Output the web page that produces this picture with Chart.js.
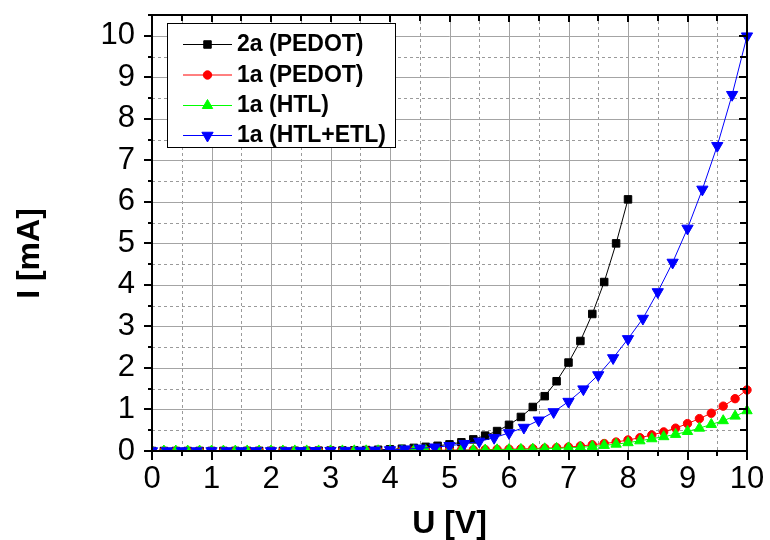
<!DOCTYPE html>
<html>
<head>
<meta charset="utf-8">
<style>
  html, body { margin: 0; padding: 0; background: #fff; }
  #wrap { width: 770px; height: 540px; }
</style>
<script src="https://cdn.jsdelivr.net/npm/chart.js@4/dist/chart.umd.min.js"></script>
</head>
<body>
<div id="wrap"><canvas id="c" width="770" height="540"></canvas></div>
<script>
// ---- data ----
const seriesNames = ['2a (PEDOT)', '1a (PEDOT)', '1a (HTL)', '1a (HTL+ETL)'];

const xBlack = [0.0,0.2,0.4,0.6,0.8,1.0,1.2,1.4,1.6,1.8,2.0,2.2,2.4,2.6,2.8,3.0,3.2,3.4,3.6,3.8,4.0,4.2,4.4,4.6,4.8,5.0,5.2,5.4,5.6,5.8,6.0,6.2,6.4,6.6,6.8,7.0,7.2,7.4,7.6,7.8,8.0];
const yBlack = [0.0,0.0,0.0,0.0,0.001,0.001,0.001,0.002,0.002,0.003,0.003,0.004,0.005,0.006,0.008,0.010,0.013,0.017,0.022,0.030,0.040,0.055,0.075,0.10,0.125,0.16,0.21,0.28,0.37,0.48,0.63,0.82,1.06,1.32,1.68,2.13,2.65,3.30,4.07,5.00,6.06];

const xRG = [0.0,0.2,0.4,0.6,0.8,1.0,1.2,1.4,1.6,1.8,2.0,2.2,2.4,2.6,2.8,3.0,3.2,3.4,3.6,3.8,4.0,4.2,4.4,4.6,4.8,5.0,5.2,5.4,5.6,5.8,6.0,6.2,6.4,6.6,6.8,7.0,7.2,7.4,7.6,7.8,8.0,8.2,8.4,8.6,8.8,9.0,9.2,9.4,9.6,9.8,10.0];
const yRed = [0,0,0,0,0,0,0,0.001,0.001,0.001,0.001,0.002,0.002,0.002,0.003,0.003,0.004,0.005,0.006,0.007,0.008,0.010,0.012,0.014,0.017,0.020,0.024,0.028,0.033,0.038,0.044,0.050,0.058,0.068,0.080,0.095,0.12,0.15,0.18,0.215,0.265,0.32,0.385,0.46,0.55,0.66,0.78,0.91,1.08,1.26,1.47];
const yGreen = [0,0,0,0,0,0,0,0,0.001,0.001,0.001,0.001,0.002,0.002,0.002,0.003,0.003,0.004,0.004,0.005,0.006,0.007,0.008,0.010,0.012,0.014,0.017,0.020,0.024,0.028,0.033,0.038,0.045,0.053,0.063,0.075,0.09,0.11,0.135,0.165,0.20,0.245,0.295,0.345,0.40,0.47,0.55,0.64,0.73,0.84,0.97];

const xBlue = [0.0,0.25,0.5,0.75,1.0,1.25,1.5,1.75,2.0,2.25,2.5,2.75,3.0,3.25,3.5,3.75,4.0,4.25,4.5,4.75,5.0,5.25,5.5,5.75,6.0,6.25,6.5,6.75,7.0,7.25,7.5,7.75,8.0,8.25,8.5,8.75,9.0,9.25,9.5,9.75,10.0];
const yBlue = [0.0,0.0,0.0,0.0,0.001,0.001,0.001,0.002,0.002,0.003,0.004,0.005,0.007,0.009,0.012,0.016,0.025,0.045,0.065,0.09,0.125,0.175,0.23,0.32,0.435,0.565,0.74,0.94,1.19,1.49,1.83,2.24,2.70,3.19,3.83,4.54,5.36,6.30,7.35,8.58,9.99];

const xTickLabels = ['0','1','2','3','4','5','6','7','8','9','10'];
const yTickLabels = ['0','1','2','3','4','5','6','7','8','9','10'];
const xTitle = 'U [V]';
const yTitle = 'I [mA]';

// ---- helpers ----
function pts(xs, ys) { return xs.map((x, i) => ({ x: x, y: ys[i] })); }

const styles = [
  { color: '#000000', shape: 'rect', radius: 5.3, rot: 0 },
  { color: '#ff0000', shape: 'circle', radius: 4.2, rot: 0 },
  { color: '#00ff00', shape: 'triangle', radius: 6, rot: 0 },
  { color: '#0000ff', shape: 'triangle', radius: 6.5, rot: 180 }
];
const dataArr = [pts(xBlack, yBlack), pts(xRG, yRed), pts(xRG, yGreen), pts(xBlue, yBlue)];

const datasets = dataArr.map((d, i) => ({
  label: seriesNames[i],
  data: d,
  borderColor: styles[i].color,
  backgroundColor: styles[i].color,
  borderWidth: 1,
  pointStyle: styles[i].shape,
  pointRadius: styles[i].radius,
  pointRotation: styles[i].rot,
  pointBorderWidth: 1,
  pointBackgroundColor: styles[i].color,
  pointBorderColor: styles[i].color,
  tension: 0,
  order: 4 - i,
  clip: { left: 0, top: 10, right: 10, bottom: 0 }
}));

function drawMarker(ctx, shape, x, y, r, rot, color) {
  ctx.save();
  ctx.fillStyle = color;
  ctx.strokeStyle = color;
  ctx.lineWidth = 1;
  ctx.translate(x, y);
  ctx.rotate(rot * Math.PI / 180);
  ctx.beginPath();
  if (shape === 'rect') {
    const s = r * Math.SQRT1_2;
    ctx.rect(-s, -s, 2 * s, 2 * s);
  } else if (shape === 'circle') {
    ctx.arc(0, 0, r, 0, Math.PI * 2);
  } else {
    const a = Math.PI / 2;
    for (let k = 0; k < 3; k++) {
      const ang = -a + k * 2 * Math.PI / 3;
      const px = Math.cos(ang) * r, py = Math.sin(ang) * r;
      if (k === 0) ctx.moveTo(px, py); else ctx.lineTo(px, py);
    }
    ctx.closePath();
  }
  ctx.fill();
  ctx.stroke();
  ctx.restore();
}

const gridPlugin = {
  id: 'customGrid',
  beforeDatasetsDraw(chart) {
    const { ctx, chartArea: a, scales } = chart;
    const xs = scales.x, ys = scales.y;
    ctx.save();
    ctx.lineWidth = 1;
    // minor dashed
    ctx.strokeStyle = '#9a9a9a';
    ctx.setLineDash([3, 3]);
    ctx.beginPath();
    xs.ticks.forEach(t => {
      if (Number.isInteger(t.value)) return;
      const px = Math.round(xs.getPixelForValue(t.value)) + 0.5;
      ctx.moveTo(px, a.top); ctx.lineTo(px, a.bottom);
    });
    ys.ticks.forEach(t => {
      if (Number.isInteger(t.value)) return;
      const py = Math.round(ys.getPixelForValue(t.value)) + 0.5;
      if (py <= a.top + 1) return;
      ctx.moveTo(a.left, py); ctx.lineTo(a.right, py);
    });
    ctx.stroke();
    // major solid
    ctx.setLineDash([]);
    ctx.strokeStyle = '#a4a4a4';
    ctx.beginPath();
    xs.ticks.forEach(t => {
      if (!Number.isInteger(t.value)) return;
      const px = Math.round(xs.getPixelForValue(t.value)) + 0.5;
      ctx.moveTo(px, a.top); ctx.lineTo(px, a.bottom);
    });
    ys.ticks.forEach(t => {
      if (!Number.isInteger(t.value)) return;
      const py = Math.round(ys.getPixelForValue(t.value)) + 0.5;
      ctx.moveTo(a.left, py); ctx.lineTo(a.right, py);
    });
    ctx.stroke();
    ctx.restore();
  }
};

const framePlugin = {
  id: 'frame',
  afterDatasetsDraw(chart) {
    const { ctx, chartArea: a, scales } = chart;
    const xs = scales.x, ys = scales.y;
    ctx.save();
    ctx.strokeStyle = '#000';
    ctx.lineWidth = 2;
    ctx.beginPath();
    ctx.rect(a.left, a.top, a.right - a.left, a.bottom - a.top);
    ctx.stroke();
    // tick marks
    ctx.lineWidth = 2;
    ctx.beginPath();
    xs.ticks.forEach(t => {
      const px = Math.round(xs.getPixelForValue(t.value));
      const major = Number.isInteger(t.value);
      const out = major ? 9 : 5;
      const inn = major ? 7 : 6;
      ctx.moveTo(px, a.bottom); ctx.lineTo(px, a.bottom + out);
      ctx.moveTo(px, a.top); ctx.lineTo(px, a.top + inn);
    });
    ys.ticks.forEach(t => {
      const py = Math.round(ys.getPixelForValue(t.value));
      const major = Number.isInteger(t.value);
      const out = major ? 8 : 4;
      const inn = major ? 8 : 7;
      ctx.moveTo(a.left, py); ctx.lineTo(a.left - out, py);
      ctx.moveTo(a.right, py); ctx.lineTo(a.right - inn, py);
    });
    ctx.stroke();

    // axis titles
    ctx.fillStyle = '#000';
    ctx.font = 'bold 32px "Liberation Sans", Arial, sans-serif';
    ctx.textAlign = 'center';
    ctx.textBaseline = 'alphabetic';
    ctx.fillText(xTitle, (a.left + a.right) / 2, 533);
    ctx.save();
    ctx.translate(38.5, 253.5);
    ctx.rotate(-Math.PI / 2);
    ctx.fillText(yTitle, 0, 0);
    ctx.restore();

    // legend
    const bx = 167.5, by = 23.5, bw = 228, bh = 124;
    ctx.fillStyle = '#fff';
    ctx.fillRect(bx, by, bw, bh);
    ctx.lineWidth = 1;
    ctx.strokeStyle = '#000';
    ctx.strokeRect(bx, by, bw, bh);
    const rows = [44, 74.5, 105, 135];
    ctx.font = 'bold 23px "Liberation Sans", Arial, sans-serif';
    ctx.textAlign = 'left';
    ctx.textBaseline = 'middle';
    seriesNames.forEach((n, i) => {
      const y = rows[i];
      ctx.strokeStyle = styles[i].color;
      ctx.lineWidth = 1;
      ctx.beginPath();
      ctx.moveTo(183, y + 0.5); ctx.lineTo(232, y + 0.5);
      ctx.stroke();
      drawMarker(ctx, styles[i].shape, 207.5, y + 0.5, styles[i].radius, styles[i].rot, styles[i].color);
      ctx.fillStyle = '#000';
      ctx.fillText(n, 237, y + 1);
    });
    ctx.restore();
  }
};

new Chart(document.getElementById('c'), {
  type: 'line',
  data: { datasets: datasets },
  plugins: [gridPlugin, framePlugin],
  options: {
    responsive: false,
    animation: false,
    devicePixelRatio: 1,
    layout: { padding: { left: 0, top: 15, right: 23, bottom: 0 } },
    plugins: { legend: { display: false }, tooltip: { enabled: false } },
    scales: {
      x: {
        type: 'linear', min: 0, max: 10,
        afterFit: s => { s.height = 89; s.paddingLeft = 0; s.paddingRight = 0; },
        ticks: {
          stepSize: 0.5, autoSkip: false, maxRotation: 0, padding: 10,
          color: '#000',
          font: { family: '"Liberation Sans", Arial, sans-serif', size: 31 },
          callback: v => Number.isInteger(v) ? xTickLabels[v] : ''
        },
        grid: { display: false, drawTicks: false },
        border: { display: false }
      },
      y: {
        type: 'linear', min: 0, max: 10.5,
        afterFit: s => { s.width = 152; s.paddingTop = 0; s.paddingBottom = 0; },
        ticks: {
          stepSize: 0.5, autoSkip: false, padding: 17,
          color: '#000',
          font: { family: '"Liberation Sans", Arial, sans-serif', size: 31 },
          callback: v => Number.isInteger(v) ? yTickLabels[v] : ''
        },
        grid: { display: false, drawTicks: false },
        border: { display: false }
      }
    }
  }
});
</script>
</body>
</html>
